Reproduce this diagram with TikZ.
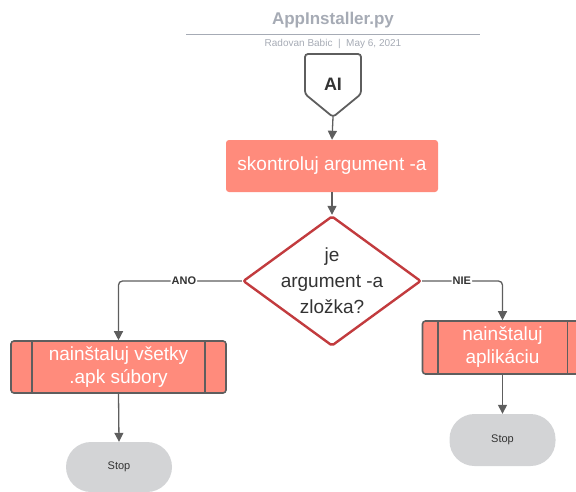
\documentclass[tikz,border=0pt]{standalone}
\usepackage{fontspec}
\setmainfont{Liberation Sans}
\usetikzlibrary{shapes.geometric,arrows.meta}
\definecolor{salmon}{HTML}{FF8B7C}
\definecolor{edgegray}{HTML}{5E5E5E}
\definecolor{titlegray}{HTML}{A6ABB5}
\definecolor{stopgray}{HTML}{D3D4D6}
\definecolor{decred}{HTML}{C23B3E}
\definecolor{textdark}{HTML}{333333}
\tikzset{
  flow/.style={draw=edgegray, line width=1.3pt, -{Triangle[length=9pt,width=9pt]}},
  procbox/.style={rectangle, fill=salmon, rounded corners=3pt, text=white,
    font=\fontsize{19}{22}\selectfont, inner sep=0pt},
  subbox/.style={rectangle, fill=salmon, draw=edgegray, line width=1.6pt,
    rounded corners=3pt, text=white, align=center,
    font=\fontsize{19}{23}\selectfont, inner sep=0pt},
  stopbox/.style={rectangle, fill=stopgray, rounded corners=25pt,
    text=textdark, font=\fontsize{11}{13}\selectfont, inner sep=0pt},
  edgelabel/.style={fill=white, inner sep=1pt, text=textdark,
    font=\bfseries\fontsize{11}{13}\selectfont},
}
\begin{document}
\begin{tikzpicture}[x=1pt, y=-1pt]
\useasboundingbox (0,0) rectangle (576,491);
\begin{scope}
\clip (0,0) rectangle (576,491);

% heading
\node[text=titlegray, font=\bfseries\fontsize{17}{20}\selectfont] (title) at (333,20) {AppInstaller.py};
\draw[titlegray, line width=1pt] (186,34) -- (480,34);
\node[text=titlegray, font=\fontsize{10}{12}\selectfont] (author) at (333,44) {Radovan Babic~~|~~May 6, 2021};

% off-page connector "AI"
\coordinate (aitip) at (333,117);
\draw[edgegray, line width=1.8pt, fill=white, rounded corners=3pt]
  (305,54) -- (361,54) -- (361,94) -- (aitip) -- (305,94) -- cycle;
\node[text=textdark, font=\bfseries\fontsize{18}{20}\selectfont] (ai) at (333,84) {AI};

% check the argument
\node[procbox, minimum width=212pt, minimum height=52pt] (check) at (332,166) {skontroluj argument -a};

% decision
\node[diamond, draw=decred, line width=2.4pt, fill=white, rounded corners=2pt,
      minimum width=178pt, minimum height=130pt, inner sep=0pt] (dec) at (332,281) {};
\node[text=textdark, align=center, font=\fontsize{19}{26}\selectfont] (dectext) at (332,281)
  {je\\argument -a\\zložka?};

% install actions
\node[subbox, minimum width=215pt, minimum height=52pt] (all) at (118.5,367) {nainštaluj všetky\\.apk súbory};
\draw[edgegray, line width=1.6pt] ([xshift=22pt]all.north west) -- ([xshift=22pt]all.south west);
\draw[edgegray, line width=1.6pt] ([xshift=-22pt]all.north east) -- ([xshift=-22pt]all.south east);

\node[subbox, minimum width=160pt, minimum height=53pt] (app) at (502.5,347.5) {nainštaluj\\aplikáciu};
\draw[edgegray, line width=1.6pt] ([xshift=16pt]app.north west) -- ([xshift=16pt]app.south west);
\draw[edgegray, line width=1.6pt] ([xshift=-16pt]app.north east) -- ([xshift=-16pt]app.south east);

% terminators
\node[stopbox, minimum width=106pt, minimum height=50pt] (stopl) at (119,467) {Stop};
\node[stopbox, minimum width=106pt, minimum height=52pt] (stopr) at (502.5,440) {Stop};

% connectors
\draw[flow] (aitip) -- (check.north);
\draw[flow] (check.south) -- (dec.north);
\draw[flow, rounded corners=4pt] (dec.west) -| node[edgelabel, pos=0.235] {ANO} (all.north);
\draw[flow, rounded corners=4pt] (dec.east) -| node[edgelabel, pos=0.247] {NIE} (app.north);
\draw[flow] (all.south) -- (stopl.north);
\draw[flow] (app.south) -- (stopr.north);
\end{scope}
\end{tikzpicture}
\end{document}
